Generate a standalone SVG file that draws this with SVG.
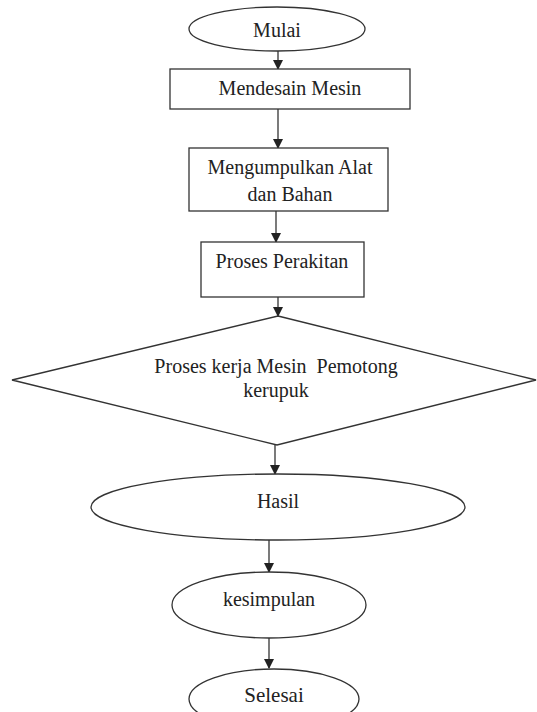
<svg xmlns="http://www.w3.org/2000/svg" width="537" height="712" viewBox="0 0 537 712">
<style>
.s{fill:#fff;stroke:#333;stroke-width:1.3}
.t{font-family:"Liberation Serif","Times New Roman",serif;font-size:20px;fill:#222;text-anchor:middle}
.c{stroke:#333;stroke-width:1.3;fill:none;marker-end:url(#ah)}
</style>
<defs>
<marker id="ah" markerWidth="10" markerHeight="10" refX="9" refY="5" orient="auto" markerUnits="userSpaceOnUse">
<path d="M0,0 L10,5 L0,10 Z" fill="#222"/>
</marker>
</defs>
<rect width="537" height="712" fill="#fff"/>
<g id="connectors">
<line class="c" x1="278" y1="51" x2="278" y2="69"/>
<line class="c" x1="278" y1="109" x2="278" y2="148"/>
<line class="c" x1="276" y1="211" x2="276" y2="242"/>
<line class="c" x1="278" y1="297" x2="278" y2="316"/>
<line class="c" x1="275" y1="445" x2="275" y2="474"/>
<line class="c" x1="269" y1="539" x2="269" y2="572"/>
<line class="c" x1="269" y1="638" x2="269" y2="668"/>
</g>
<g id="mulai">
<ellipse class="s" cx="277" cy="29" rx="88" ry="22"/>
<text class="t" x="277" y="37">Mulai</text>
</g>
<g id="mendesain">
<rect class="s" x="170" y="69" width="240" height="40"/>
<text class="t" x="290" y="95">Mendesain Mesin</text>
</g>
<g id="mengumpulkan">
<rect class="s" x="189" y="148" width="199" height="63"/>
<text class="t" x="290" y="174">Mengumpulkan Alat</text>
<text class="t" x="290" y="201">dan Bahan</text>
</g>
<g id="perakitan">
<rect class="s" x="201" y="242" width="163" height="55"/>
<text class="t" x="282" y="268">Proses Perakitan</text>
</g>
<g id="proses-kerja">
<polygon class="s" points="278,316 536,380 277,445 12,380"/>
<text class="t" x="276" y="373" xml:space="preserve">Proses kerja Mesin  Pemotong</text>
<text class="t" x="276" y="397">kerupuk</text>
</g>
<g id="hasil">
<ellipse class="s" cx="278" cy="507" rx="187" ry="33"/>
<text class="t" x="278" y="508">Hasil</text>
</g>
<g id="kesimpulan">
<ellipse class="s" cx="269" cy="605" rx="97" ry="33"/>
<text class="t" x="269" y="606">kesimpulan</text>
</g>
<g id="selesai">
<ellipse class="s" cx="274" cy="699" rx="85" ry="30"/>
<text class="t" x="274" y="702" style="font-size:21px">Selesai</text>
</g>
</svg>
